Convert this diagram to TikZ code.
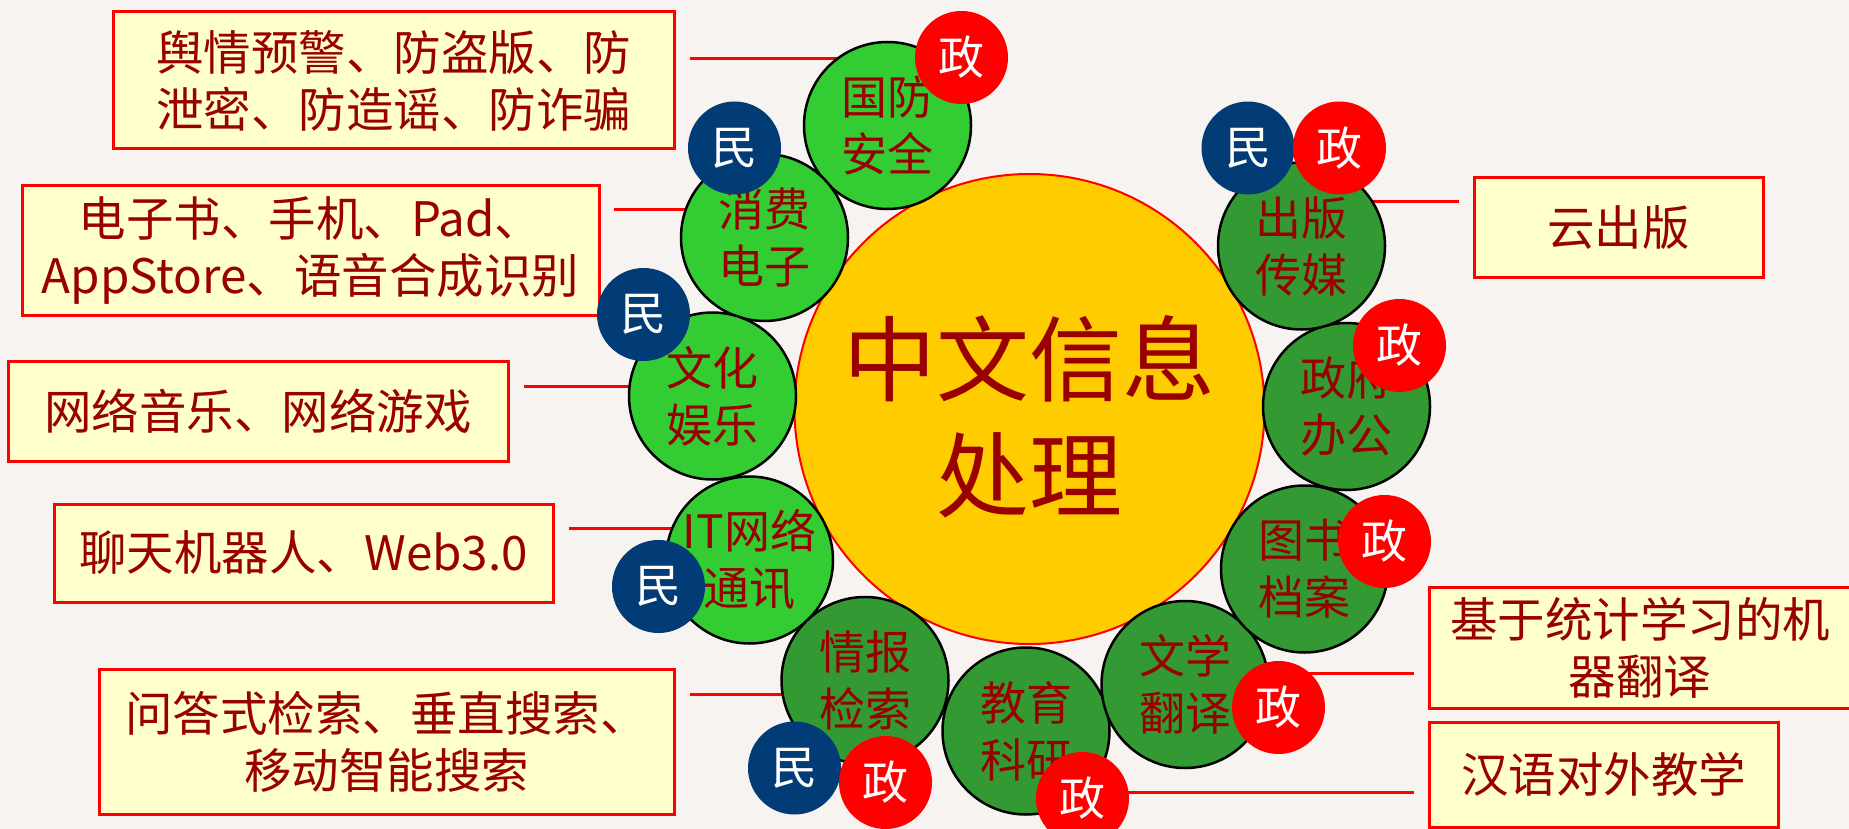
\documentclass[tikz,border=0pt]{standalone}
\usepackage{fontspec}
\setmainfont{Noto Sans CJK SC}
\pgfdeclarelayer{bg}
\pgfdeclarelayer{paper}
\pgfsetlayers{paper,bg,main}
\definecolor{bgc}{HTML}{F6F3F0}
\definecolor{boxfill}{HTML}{FFFFCC}
\definecolor{boxred}{HTML}{FF0000}
\definecolor{txt}{HTML}{990000}
\definecolor{lg}{HTML}{33CC33}
\definecolor{dg}{HTML}{339933}
\definecolor{minblue}{HTML}{023C76}
\definecolor{zhengred}{HTML}{FF0000}
\definecolor{core}{HTML}{FFCC00}
\tikzset{
  infobox/.style={draw=boxred, line width=3pt, fill=boxfill, text=txt, align=center,
    inner sep=0pt, font=\fontsize{47.5}{57}\selectfont},
  topic/.style={circle, draw=black, line width=2.5pt, minimum size=167pt, inner sep=0pt,
    text=txt, align=center, font=\fontsize{46}{57}\selectfont},
  lighttopic/.style={topic, fill=lg},
  darktopic/.style={topic, fill=dg},
  badge/.style={circle, minimum size=93pt, inner sep=0pt, text=white,
    font=\fontsize{46}{46}\selectfont},
  minbadge/.style={badge, fill=minblue},
  zhengbadge/.style={badge, fill=zhengred},
  link/.style={draw=boxred, line width=3pt}
}
\begin{document}
\begin{tikzpicture}[x=1pt,y=-1pt]
\begin{pgfonlayer}{paper}
\fill[bgc] (0,0) rectangle (1849,829);
\end{pgfonlayer}
\useasboundingbox (0,0) rectangle (1849,829);
\clip (0,0) rectangle (1849,829);

% info boxes
\node[infobox, minimum width=561pt, minimum height=137pt] (b1) at (393.5,80.5) {舆情预警、防盗版、防\\泄密、防造谣、防诈骗};
\node[infobox, minimum width=577pt, minimum height=129pt] (b2) at (310.5,250.5) {电子书、手机、Pad、\\AppStore、语音合成识别};
\node[infobox, minimum width=500pt, minimum height=100pt] (b3) at (258,411) {网络音乐、网络游戏};
\node[infobox, minimum width=499pt, minimum height=98pt] (b4) at (303.5,553) {聊天机器人、Web3.0};
\node[infobox, minimum width=575pt, minimum height=145pt] (b5) at (386.5,741.5) {问答式检索、垂直搜索、\\移动智能搜索};
\node[infobox, minimum width=289pt, minimum height=99pt] (b6) at (1618.5,227.5) {云出版};
\node[infobox, minimum width=422pt, minimum height=121pt] (b7) at (1640,647.5) {基于统计学习的机\\器翻译};
\node[infobox, minimum width=349pt, minimum height=105pt] (b8) at (1603.5,774.5) {汉语对外教学};

% central circle
\node[circle, draw=boxred, line width=2pt, fill=core, minimum size=470pt, inner sep=0pt] (core) at (1029.5,409) {};
\node[text=txt, align=center, font=\fontsize{93}{116}\selectfont] (coretext) at (1029.5,417) {中文信息\\处理};

% topic circles
\node[lighttopic] (gf) at (887.5,125.5) {国防\\安全};
\node[lighttopic] (xf) at (764.5,237.5) {消费\\电子};
\node[lighttopic] (wh) at (712.5,396) {文化\\娱乐};
\node[lighttopic] (it) at (749.5,560) {IT网络\\通讯};
\node[darktopic] (qb) at (865,680.5) {情报\\检索};
\node[darktopic] (jy) at (1026,731) {教育\\科研};
\node[darktopic] (wx) at (1185,684.5) {文学\\翻译};
\node[darktopic] (ts) at (1304.5,569) {图书\\档案};
\node[darktopic] (zf) at (1346.5,406.5) {政府\\办公};
\node[darktopic] (cb) at (1301.5,246) {出版\\传媒};

% badges
\node[minbadge] (m1) at (734.5,148) {民};
\node[minbadge] (m2) at (643.5,314.5) {民};
\node[minbadge] (m3) at (658.5,586.5) {民};
\node[minbadge] (m4) at (794.5,768) {民};
\node[minbadge] (m5) at (1248,148) {民};
\node[zhengbadge] (z1) at (961.5,57.5) {政};
\node[zhengbadge] (z2) at (885.5,782.5) {政};
\node[zhengbadge] (z3) at (1082.5,798.5) {政};
\node[zhengbadge] (z4) at (1278.5,707.5) {政};
\node[zhengbadge] (z5) at (1384.5,541.5) {政};
\node[zhengbadge] (z6) at (1399.5,345.5) {政};
\node[zhengbadge] (z7) at (1339.5,148) {政};

% connectors (behind the circles)
\coordinate (l1) at (690,59);
\coordinate (l2) at (614,210);
\coordinate (l3) at (524,386);
\coordinate (l4) at (569,528);
\coordinate (l5) at (690,694);
\coordinate (l6) at (1459,202);
\coordinate (l7) at (1414,673);
\coordinate (l8) at (1414,792);
\begin{pgfonlayer}{bg}
\draw[link] (l1) -- (l1 -| gf);
\draw[link] (l2) -- (l2 -| xf);
\draw[link] (l3) -- (l3 -| wh);
\draw[link] (l4) -- (l4 -| it);
\draw[link] (l5) -- (l5 -| qb);
\draw[link] (l6) -- (l6 -| cb);
\draw[link] (l7) -- (l7 -| wx);
\draw[link] (l8) -- (l8 -| jy);
\end{pgfonlayer}
\end{tikzpicture}
\end{document}
